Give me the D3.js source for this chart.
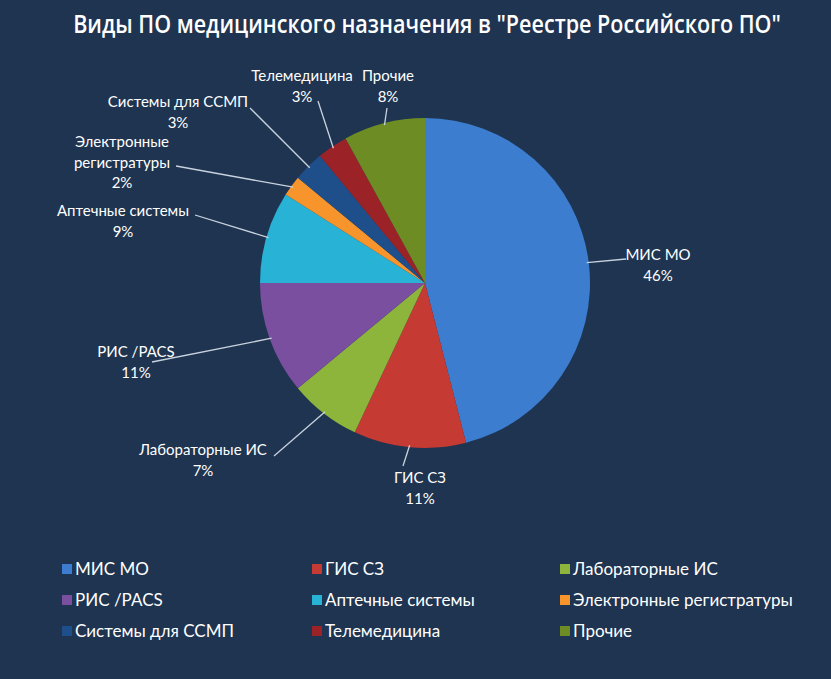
<!DOCTYPE html>
<html>
<head>
<meta charset="utf-8">
<script src="https://cdn.jsdelivr.net/npm/d3@7"></script>
<style>
  body { margin: 0; background: #1e3450; }
  svg { display: block; }
</style>
</head>
<body>
<div id="chart"></div>
<script>
// data
const categories = ["МИС МО", "ГИС СЗ", "Лабораторные ИС", "РИС /PACS", "Аптечные системы",
    "Электронные регистратуры", "Системы для ССМП", "Телемедицина", "Прочие"];
const shares = [46, 11, 7, 11, 9, 2, 3, 3, 8];
const colors = ["#3d7dcf", "#c53a33", "#8db53b", "#7b4f9f", "#27b2d6",
    "#f7942c", "#1f4f8b", "#9b2226", "#6d8c24"];
// label text lines (chart labels wrap differently from legend)
const labelLines = [["МИС МО"], ["ГИС СЗ"], ["Лабораторные ИС"], ["РИС /PACS"], ["Аптечные системы"],
    ["Электронные", "регистратуры"], ["Системы для ССМП"], ["Телемедицина"], ["Прочие"]];

// label layout: centre of label block, and where the leader line starts
const labelLayout = [
    { x: 658, y: 255, lx: 626, ly: 259 },
    { x: 420, y: 478, lx: 403, ly: 466 },
    { x: 203, y: 450, lx: 274, ly: 456 },
    { x: 136, y: 352, lx: 152, ly: 362 },
    { x: 123, y: 211, lx: 195, ly: 215 },
    { x: 122, y: 142, lx: 176, ly: 166 },
    { x: 178, y: 102, lx: 250, ly: 108 },
    { x: 302, y: 76, lx: 318, ly: 101 },
    { x: 388, y: 76, lx: 387, ly: 108 }
];

const width = 831, height = 679;
const cx = 425, cy = 283, radius = 165;

const svg = d3.select("#chart")
    .append("svg")
    .attr("width", width)
    .attr("height", height);

svg.append("rect")
    .attr("width", width)
    .attr("height", height)
    .attr("fill", "#1e3450");

// title (condensed look: squeeze horizontally to the reference width)
const title = svg.append("text")
    .attr("x", 0)
    .attr("y", 0)
    .attr("text-anchor", "middle")
    .attr("fill", "#ffffff")
    .attr("font-family", "'Open Sans', sans-serif")
    .attr("font-weight", "600")
    .attr("font-size", "25px")
    .text("Виды ПО медицинского назначения в \"Реестре Российского ПО\"");
const titleW = title.node().getComputedTextLength();
title.attr("transform", "translate(427,33) scale(" + (708 / titleW) + ",1)");

const pie = d3.pie().sort(null).value(d => d)(shares);
const arc = d3.arc().innerRadius(0).outerRadius(radius);
const edgeArc = d3.arc().innerRadius(radius - 2).outerRadius(radius - 2);

const g = svg.append("g").attr("transform", "translate(" + cx + "," + cy + ")");

g.selectAll("path")
    .data(pie)
    .enter()
    .append("path")
    .attr("d", arc)
    .attr("fill", (d, i) => colors[i]);

// leader lines
svg.selectAll("line.leader")
    .data(pie)
    .enter()
    .append("line")
    .attr("class", "leader")
    .attr("x1", (d, i) => labelLayout[i].lx)
    .attr("y1", (d, i) => labelLayout[i].ly)
    .attr("x2", d => cx + edgeArc.centroid(d)[0])
    .attr("y2", d => cy + edgeArc.centroid(d)[1])
    .attr("stroke", "#c9d3df")
    .attr("stroke-width", 1.3);

// labels
const lbl = svg.selectAll("text.lbl")
    .data(pie)
    .enter()
    .append("text")
    .attr("class", "lbl")
    .attr("text-anchor", "middle")
    .attr("fill", "#ffffff")
    .attr("font-family", "Lato, 'Open Sans', sans-serif")
    .attr("font-size", "15px");

lbl.each(function(d, i) {
    const t = d3.select(this);
    const lines = labelLines[i].concat([shares[i] + "%"]);
    lines.forEach((s, k) => {
        t.append("tspan")
            .attr("x", labelLayout[i].x)
            .attr("y", labelLayout[i].y + 5 + k * 20.5)
            .text(s);
    });
});

// legend
const legendCols = [62, 312, 560], legendRows = [569, 600, 631];
const legend = svg.selectAll("g.legend")
    .data(categories)
    .enter()
    .append("g")
    .attr("class", "legend")
    .attr("transform", (d, i) => "translate(" + legendCols[i % 3] + "," + legendRows[Math.floor(i / 3)] + ")");

legend.append("rect")
    .attr("x", 0)
    .attr("y", -5)
    .attr("width", 10)
    .attr("height", 10)
    .attr("fill", (d, i) => colors[i]);

legend.append("text")
    .attr("x", 13)
    .attr("y", 6)
    .attr("fill", "#ffffff")
    .attr("font-family", "Lato, 'Open Sans', sans-serif")
    .attr("font-size", "17px")
    .text(d => d);
</script>
</body>
</html>
